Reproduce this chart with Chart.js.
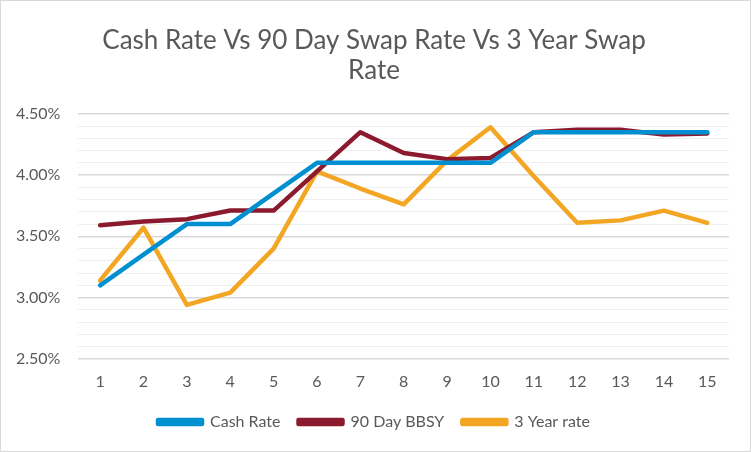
<!DOCTYPE html>
<html>
<head>
<meta charset="utf-8">
<script src="https://cdn.jsdelivr.net/npm/chart.js@4/dist/chart.umd.min.js"></script>
<style>
  html, body { margin: 0; padding: 0; background: #fff; }
  #wrap { width: 751px; height: 452px; box-sizing: border-box; border: 1px solid #d9d9d9; position: relative; }
</style>
</head>
<body>
<div id="wrap"><canvas id="chart"></canvas></div>
<script>
// chart data
const periods = ["1","2","3","4","5","6","7","8","9","10","11","12","13","14","15"];
const cashRate = [3.10, 3.35, 3.60, 3.60, 3.85, 4.10, 4.10, 4.10, 4.10, 4.10, 4.35, 4.35, 4.35, 4.35, 4.35];
const bbsy90 = [3.59, 3.62, 3.64, 3.71, 3.71, 4.03, 4.35, 4.18, 4.13, 4.14, 4.35, 4.37, 4.37, 4.33, 4.34];
const threeYear = [3.14, 3.57, 2.94, 3.04, 3.40, 4.03, 3.89, 3.76, 4.12, 4.39, 3.99, 3.61, 3.63, 3.71, 3.61];
const titleLines = ["Cash Rate Vs 90 Day Swap Rate Vs 3 Year Swap", "Rate"];

const grey = "#595959";
const fontFam = "Lato, 'Open Sans', sans-serif";

function isMajor(v) {
  return Math.round(v * 10) % 5 === 0;
}

new Chart(document.getElementById("chart"), {
  type: "line",
  data: {
    labels: periods,
    datasets: [
      { label: "Cash Rate", data: cashRate, borderColor: "#0090d2", backgroundColor: "#0090d2" },
      { label: "90 Day BBSY", data: bbsy90, borderColor: "#8b1a2e", backgroundColor: "#8b1a2e" },
      { label: "3 Year rate", data: threeYear, borderColor: "#f2a623", backgroundColor: "#f2a623" }
    ]
  },
  options: {
    responsive: true,
    maintainAspectRatio: false,
    animation: false,
    elements: {
      line: { borderWidth: 4.5, tension: 0, borderCapStyle: "round", borderJoinStyle: "round" },
      point: { radius: 0 }
    },
    layout: { padding: { left: -3, right: 0, top: 8, bottom: 11 } },
    plugins: {
      title: {
        display: true,
        text: titleLines,
        color: grey,
        font: { family: fontFam, size: 26, weight: "normal", lineHeight: 1.15 },
        padding: { top: 17, bottom: 28 }
      },
      legend: {
        position: "bottom",
        labels: {
          color: grey,
          font: { family: fontFam, size: 16 },
          boxWidth: 44,
          boxHeight: 4,
          padding: 18
        }
      },
      tooltip: { enabled: false }
    },
    scales: {
      x: {
        offset: true,
        grid: { display: false },
        border: { display: false },
        ticks: { color: grey, font: { family: fontFam, size: 16 }, padding: 5 }
      },
      y: {
        min: 2.5,
        max: 4.5,
        border: { display: false },
        grid: {
          color: ctx => isMajor(ctx.tick.value) ? "#d9d9d9" : "#efefef",
          lineWidth: ctx => isMajor(ctx.tick.value) ? 1.5 : 1,
          drawTicks: false
        },
        ticks: {
          stepSize: 0.1,
          autoSkip: false,
          color: grey,
          font: { family: fontFam, size: 16 },
          padding: 18,
          callback: v => isMajor(v) ? v.toFixed(2) + "%" : ""
        }
      },
      // empty spacer on the right so the title stays centred on the whole chart
      spacer: {
        position: "right",
        grid: { display: false },
        border: { display: false },
        ticks: { display: false },
        afterFit: s => { s.width = 21; }
      }
    }
  }
});
</script>
</body>
</html>
